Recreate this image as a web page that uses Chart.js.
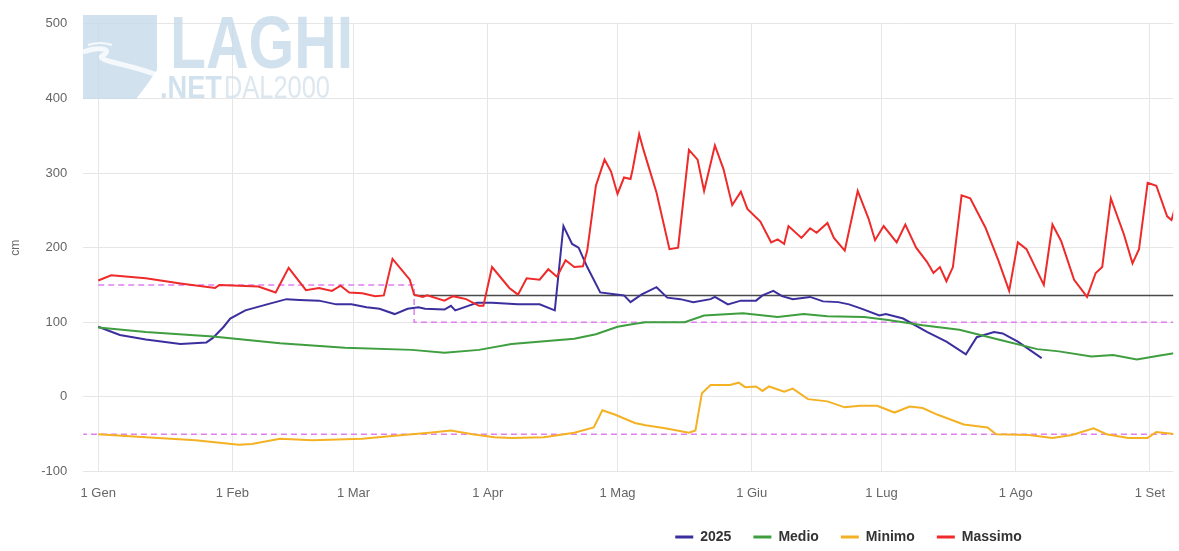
<!DOCTYPE html>
<html>
<head>
<meta charset="utf-8">
<title>Livello lago</title>
<script src="https://cdn.jsdelivr.net/npm/chart.js@4/dist/chart.umd.min.js"></script>
<style>
  html, body { margin: 0; padding: 0; background: #fff; }
</style>
</head>
<body>
<canvas id="livello" width="1179" height="551"></canvas>
<script>
// asse x in giorni dal 1 gennaio
const monthDays = [0, 31, 59, 90, 120, 151, 181, 212, 243];
const monthLabels = ['1 Gen', '1 Feb', '1 Mar', '1 Apr', '1 Mag', '1 Giu', '1 Lug', '1 Ago', '1 Set'];

const days2025 = [0, 5, 11, 19, 25, 26.5, 29, 30.5, 34, 39, 43.5, 46.5, 51, 55, 58.5, 62, 65, 68.5, 71.5, 74, 75.5, 80, 81.5, 82.5, 85.5, 87.5, 91, 97, 102, 105.5, 107.5, 109.5, 111, 113, 116, 121.5, 123, 125.5, 129, 131.5, 134.5, 137.5, 141.5, 142.5, 145.5, 148.5, 152, 153.5, 156, 158, 160.5, 164.5, 167.5, 171, 173.5, 176.5, 180.5, 182, 186, 191.5, 196, 200.5, 203, 207, 209, 212.5, 218];
const vals2025 = [94, 83, 77, 71, 73, 79, 94, 105, 116, 124, 131, 130, 129, 124, 124, 120, 118, 111, 118, 120, 118, 117, 122, 116, 122, 126, 126, 124, 124, 116, 229, 205, 200, 174, 140, 136, 127, 137, 147, 133, 131, 127, 131, 134, 124, 129, 129, 136, 142, 135, 131, 134, 128, 127, 124, 118, 109, 111, 105, 87, 74, 57, 80, 87, 85, 74, 52];

const daysMedio = [0, 11, 26.5, 42, 57, 72.5, 80, 88, 95.5, 110, 115, 120, 124, 126.5, 135.5, 140, 149, 157, 163, 168.5, 177, 182.5, 190.5, 199, 208, 217, 222, 229.5, 234.5, 240, 245, 249];
const valsMedio = [93, 87, 81, 72, 66, 63, 59, 63, 71, 78, 84, 94, 98, 100, 100, 109, 112, 107, 111, 108, 107, 103, 96, 90, 77, 64, 61, 54, 56, 50, 55, 59];

const daysMinimo = [0, 11, 22.5, 32.5, 35.5, 42, 49.5, 61, 68.5, 76.5, 81.5, 86.5, 91.5, 95.5, 103, 110, 114.5, 116.5, 119.5, 124, 126.5, 131, 136.5, 138, 139.5, 141.5, 146, 148, 149.5, 152, 153.5, 155, 158.5, 160.5, 164, 168.5, 172.5, 176, 180, 184, 187.5, 190.5, 194, 200, 205.5, 207.5, 215, 220.5, 225, 230, 233, 238, 242.5, 244.5, 249];
const valsMinimo = [-50, -54, -58, -64, -63, -56, -58, -56, -52, -48, -45, -50, -54, -55, -54, -48, -41, -18, -24, -35, -38, -42, -48, -45, 5, 16, 16, 19, 13, 14, 8, 14, 7, 11, -3, -6, -14, -12, -12, -21, -13, -15, -24, -37, -41, -50, -51, -55, -51, -42, -50, -55, -55, -47, -50];

const daysMassimo = [0, 3, 11, 19, 27, 28, 37, 41, 44, 48, 51, 54, 56, 58, 61, 64, 66, 68, 72, 73, 75, 76, 80, 82, 85, 88, 89, 91, 95, 97, 99, 102, 104, 106, 108, 110, 112, 113, 115, 117, 118.5, 120, 121.5, 123, 123.5, 125, 126, 129, 132, 134, 136.5, 138.5, 140, 142.5, 144.5, 146.5, 148.5, 150, 153, 155.5, 157, 158.5, 159.5, 162.5, 164.5, 166, 168.5, 170, 172.5, 175.5, 178, 179.5, 181.5, 184.5, 186.5, 189, 191.5, 193, 194.5, 196, 197.5, 199.5, 201.5, 205, 208, 210.5, 212.5, 214.5, 218.5, 220.5, 222.5, 225.5, 228.5, 230.5, 232, 234, 237, 239, 240.5, 242.5, 244.5, 247, 248, 249.5];
const valsMassimo = [156, 163, 159, 152, 146, 150, 148, 140, 173, 143, 146, 142, 149, 140, 139, 135, 136, 185, 157, 137, 134, 136, 129, 135, 131, 122, 122, 174, 146, 137, 159, 157, 171, 161, 183, 174, 175, 196, 283, 318, 302, 272, 294, 292, 305, 352, 331, 274, 198, 200, 331, 318, 276, 337, 305, 257, 275, 252, 235, 207, 211, 205, 229, 213, 226, 220, 233, 213, 196, 276, 239, 210, 229, 207, 231, 200, 181, 166, 174, 155, 174, 270, 266, 227, 183, 142, 207, 198, 150, 231, 209, 157, 134, 166, 174, 266, 218, 179, 198, 287, 283, 242, 237, 266];

// limiti di regolazione e quota di riferimento
const limitUpperDays = [0, 73, 73, 260];
const limitUpperVals = [150, 150, 100, 100];
const limitLowerDays = [-4, 260];
const limitLowerVals = [-50, -50];
const refDays = [73, 260];
const refVals = [136, 136];

const toPoints = (xs, ys) => xs.map((x, i) => ({ x: x, y: ys[i] }));

const watermark = {
  id: 'watermark',
  beforeDatasetsDraw(chart) {
    const ctx = chart.ctx;
    ctx.save();
    ctx.globalAlpha = 0.8;
    ctx.fillStyle = '#c6dbea';
    ctx.beginPath();
    ctx.moveTo(83, 15);
    ctx.lineTo(157, 15);
    ctx.lineTo(157, 70);
    ctx.lineTo(146, 86);
    ctx.lineTo(136, 99);
    ctx.lineTo(83, 99);
    ctx.closePath();
    ctx.fill();
    ctx.strokeStyle = '#ffffff';
    ctx.lineWidth = 5;
    ctx.beginPath();
    ctx.moveTo(83, 52);
    ctx.bezierCurveTo(100, 46, 114, 49, 102, 56);
    ctx.bezierCurveTo(96, 61, 130, 64, 157, 75);
    ctx.stroke();
    ctx.lineWidth = 2;
    ctx.beginPath();
    ctx.moveTo(88, 45);
    ctx.quadraticCurveTo(100, 41, 112, 45);
    ctx.stroke();

    const fitText = (txt, x, y, w, font, color) => {
      ctx.font = font;
      ctx.fillStyle = color;
      const m = ctx.measureText(txt).width;
      ctx.save();
      ctx.translate(x, y);
      ctx.scale(w / m, 1);
      ctx.fillText(txt, 0, 0);
      ctx.restore();
    };
    ctx.textBaseline = 'alphabetic';
    fitText('LAGHI', 170, 68, 183, 'bold 74px "Liberation Sans"', '#c6dbea');
    fitText('.NET', 160, 98, 62, 'bold 31px "Liberation Sans"', '#c6dbea');
    fitText('DAL2000', 224, 98, 106, '31px "Liberation Sans"', '#d4e1eb');
    ctx.restore();
  }
};

const legendShift = {
  id: 'legendShift',
  afterLayout(chart) {
    const lg = chart.legend;
    lg.left += 259;
    lg.right += 259;
    lg.top = 537 - lg.options.labels.padding - 7;
    lg.bottom = lg.top + lg.height;
  }
};

const tickFont = { family: '"Liberation Sans", Arial, sans-serif', size: 13 };

new Chart(document.getElementById('livello'), {
  type: 'line',
  data: {
    datasets: [
      { label: '2025', data: toPoints(days2025, vals2025), borderColor: '#3b2f9e', backgroundColor: '#3b2f9e', borderWidth: 2, order: 3 },
      { label: 'Medio', data: toPoints(daysMedio, valsMedio), borderColor: '#3f9e3f', backgroundColor: '#3f9e3f', borderWidth: 2, order: 2 },
      { label: 'Minimo', data: toPoints(daysMinimo, valsMinimo), borderColor: '#f4b124', backgroundColor: '#f4b124', borderWidth: 2, order: 1 },
      { label: 'Massimo', data: toPoints(daysMassimo, valsMassimo), borderColor: '#ee2a2a', backgroundColor: '#ee2a2a', borderWidth: 2, order: 0 },
      { label: 'lim sup', data: toPoints(limitUpperDays, limitUpperVals), borderColor: '#e07ef0', borderDash: [6, 4], borderWidth: 1.5, order: 10 },
      { label: 'lim inf', data: toPoints(limitLowerDays, limitLowerVals), borderColor: '#e07ef0', borderDash: [6, 4], borderWidth: 1.5, order: 10 },
      { label: 'rif', data: toPoints(refDays, refVals), borderColor: '#4a4a4a', borderWidth: 1.5, order: 9 }
    ]
  },
  options: {
    responsive: false,
    animation: false,
    layout: { padding: { top: 13, right: 0, left: 0, bottom: 0 } },
    elements: {
      line: { tension: 0, fill: false },
      point: { radius: 0, hoverRadius: 0 }
    },
    plugins: {
      tooltip: { enabled: false },
      legend: {
        position: 'bottom',
        labels: {
          filter: (item) => item.datasetIndex < 4,
          sort: (a, b) => a.datasetIndex - b.datasetIndex,
          generateLabels: (chart) => {
            const items = Chart.defaults.plugins.legend.labels.generateLabels(chart);
            items.forEach(it => { it.lineWidth = 3; });
            return items;
          },
          usePointStyle: true,
          pointStyle: 'line',
          pointStyleWidth: 18,
          padding: 22,
          color: '#333333',
          font: { family: '"Liberation Sans", Arial, sans-serif', size: 14, weight: 'bold' }
        }
      }
    },
    scales: {
      x: {
        type: 'linear',
        min: -3.45,
        max: 248.4,
        afterBuildTicks: (scale) => { scale.ticks = monthDays.map(v => ({ value: v })); },
        afterFit: (scale) => { scale.height = 33.5; },
        ticks: {
          autoSkip: false,
          maxRotation: 0,
          padding: 14,
          color: '#666666',
          font: tickFont,
          callback: (v) => {
            const i = monthDays.indexOf(v);
            return i >= 0 ? monthLabels[i] : '';
          }
        },
        grid: { color: '#e6e6e6', drawTicks: false },
        border: { display: false }
      },
      y: {
        min: -100,
        max: 500,
        afterFit: (scale) => { scale.width = 83.3; },
        ticks: { stepSize: 100, padding: 16, color: '#666666', font: tickFont },
        grid: { color: '#e6e6e6', drawTicks: false },
        border: { display: false },
        title: {
          display: true,
          text: 'cm',
          color: '#666666',
          font: { family: '"Liberation Sans", Arial, sans-serif', size: 12 },
          padding: { top: 8, bottom: 0 }
        }
      }
    }
  },
  plugins: [watermark, legendShift]
});
</script>
</body>
</html>
